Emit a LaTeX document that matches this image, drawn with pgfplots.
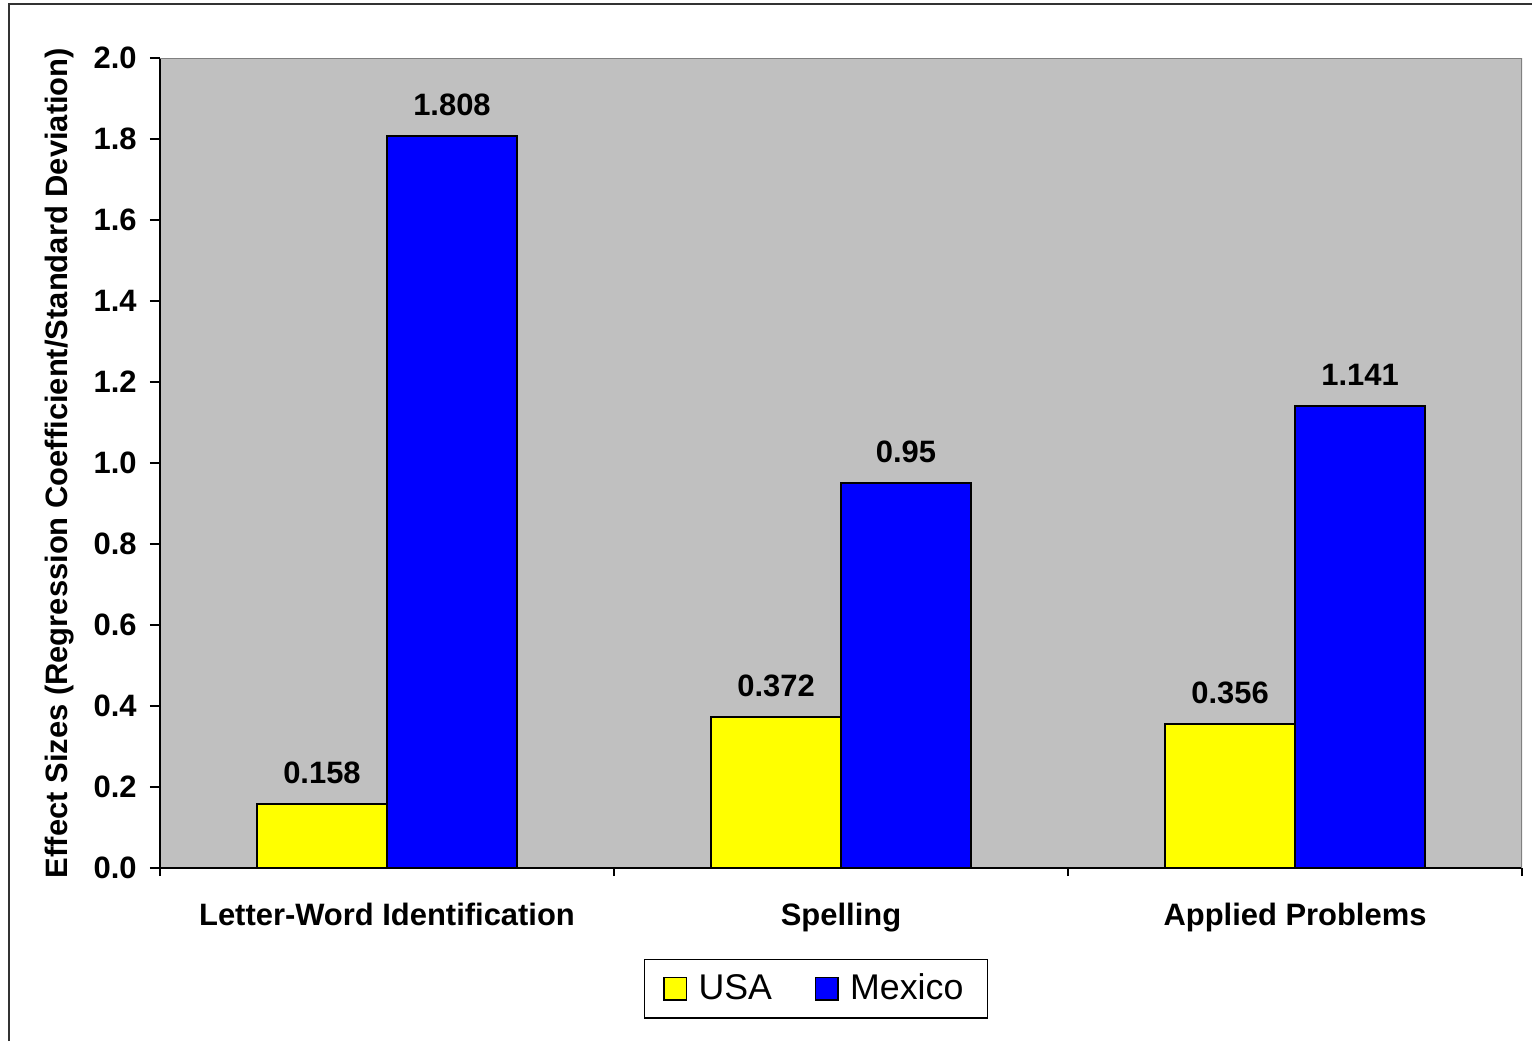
\documentclass[border=0pt]{standalone}
\usepackage{pgfplots}
\pgfplotsset{compat=1.18}
\usepackage{fontspec}
\setmainfont{Liberation Sans}
\definecolor{bgray}{HTML}{C0C0C0}
\definecolor{dgray}{HTML}{808080}
\definecolor{usay}{HTML}{FFFF00}
\definecolor{mexb}{HTML}{0000FF}
\begin{document}
\begin{tikzpicture}
\useasboundingbox (-60pt,-64.875pt) rectangle (514.5pt,325.5pt);
\draw[line width=1pt, black!80] (-56.625pt,-64.875pt) -- (-56.625pt,324pt) -- (514.5pt,324pt);
\begin{axis}[
  at={(0pt,0pt)}, anchor=south west,
  scale only axis,
  width=510.75pt, height=303.75pt,
  xmin=0, xmax=3, ymin=0, ymax=2,
  axis background/.style={fill=bgray},
  axis x line*=bottom, axis y line*=left,
  axis line style={black, line width=0.6pt},
  ybar,
  bar width=48.75pt,
  xtick={0.5,1.5,2.5},
  xticklabels={Letter-Word Identification, Spelling, Applied Problems},
  major x tick style={draw=none},
  minor xtick={0,1,2,3},
  minor tick length=3pt,
  minor x tick style={black, line width=0.4pt},
  ytick={0,0.2,...,2.0},
  major tick length=3.75pt,
  tick align=outside,
  major y tick style={black, line width=0.5pt},
  /pgf/number format/assume math mode=true,
  yticklabel style={/pgf/number format/fixed, /pgf/number format/fixed zerofill, /pgf/number format/precision=1, xshift=-1.5pt},
  ticklabel style={font=\fontsize{11.6}{14}\selectfont\bfseries},
  xticklabel style={yshift=-6pt},
  ylabel={Effect Sizes (Regression Coefficient/Standard Deviation)},
  every axis y label/.style={at={(axis description cs:-0.0734,0.5)}, rotate=90, anchor=center, font=\fontsize{11.6}{14}\selectfont\bfseries},
  nodes near coords,
  point meta=explicit symbolic,
  every node near coord/.append style={font=\fontsize{11.6}{14}\selectfont\bfseries, yshift=3.8pt},
  legend columns=2,
  legend style={at={(axis description cs:0.4816,-0.1488)}, anchor=center, draw=black, line width=0.5pt,
    font=\fontsize{13.4}{16}\selectfont, inner xsep=7pt, inner ysep=3.4pt,
    /tikz/every odd column/.append style={column sep=2.3pt},
    /tikz/every even column/.append style={column sep=14pt}},
  legend image code/.code={\draw[#1, draw=black, line width=0.6pt] (0pt,-4.2pt) rectangle (8.4pt,4.2pt);},
]
\addplot[fill=usay, draw=black, line width=0.75pt, bar shift=-24.375pt] coordinates {(0.5,0.158) [0.158] (1.5,0.372) [0.372] (2.5,0.356) [0.356]};
\addplot[fill=mexb, draw=black, line width=0.75pt, bar shift=24.375pt] coordinates {(0.5,1.808) [1.808] (1.5,0.95) [0.95] (2.5,1.141) [1.141]};
\legend{USA, Mexico}
\draw[dgray, line width=1pt] (rel axis cs:0,1) -- (rel axis cs:1,1) -- (rel axis cs:1,0);
\end{axis}
\end{tikzpicture}
\end{document}
